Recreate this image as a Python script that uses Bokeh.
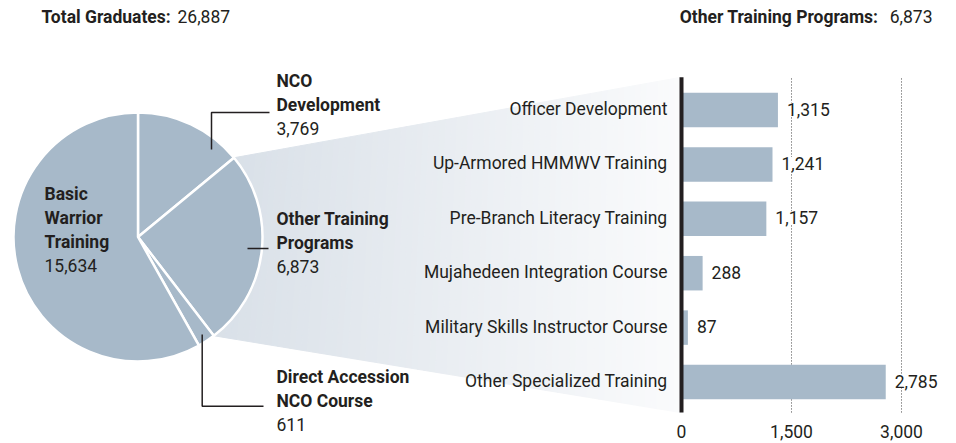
import math
from bokeh.plotting import figure
from bokeh.models import Range1d
from bokeh.core.properties import value
from bokeh.embed import file_html
from bokeh.resources import INLINE

# ---------------- data ----------------
pie_labels = ["NCO Development", "Other Training Programs", "Direct Accession NCO Course", "Basic Warrior Training"]
pie_values = [3769, 6873, 611, 15634]
total_graduates = 26887

bar_categories = ["Officer Development", "Up-Armored HMMWV Training", "Pre-Branch Literacy Training",
                  "Mujahedeen Integration Course", "Military Skills Instructor Course", "Other Specialized Training"]
bar_values = [1315, 1241, 1157, 288, 87, 2785]
other_total = 6873
axis_ticks = [0, 1500, 3000]
axis_tick_labels = ["0", "1,500", "3,000"]

# ---------------- layout constants ----------------
W, H = 956, 443
FONT = "Roboto"
FS = "17.5px"
TXT = "#231f20"
PIE_C = "#a7b9c9"
BAR_C = "#a7b9c9"
CX, CY, R = 137.5, 206.5, 124.5
ADJ = 7                  # baseline correction (px)

ZERO_PX = 681.0          # pixel of bar value 0
PX_PER_UNIT = 110.0 / 1500
BAND_PX = 54.4           # vertical spacing between bars
BOTTOM_BAR_PX = 61.5     # pixel (from bottom) of last bar centre
BAR_H = 0.634

p = figure(width=W, height=H, x_range=Range1d(0, W), y_range=Range1d(0, H),
           output_backend="svg", toolbar_location=None,
           x_axis_location=None, y_axis_location=None, min_border=0)
p.outline_line_color = None
p.xgrid.grid_line_color = None
p.ygrid.grid_line_color = None
p.background_fill_color = "white"

xs_start = -ZERO_PX / PX_PER_UNIT
p.extra_x_ranges = {"bars": Range1d(xs_start, xs_start + W / PX_PER_UNIT)}
ys_start = -BOTTOM_BAR_PX / BAND_PX
p.extra_y_ranges = {"bars": Range1d(ys_start, ys_start + H / BAND_PX)}

n = len(bar_categories)
bar_pos = [n - 1 - i for i in range(n)]
axis_lo, axis_hi = -0.56, n - 1 + 0.6

# ---------------- pie angles ----------------
cum = [0]
for v in pie_values:
    cum.append(cum[-1] + v)
tot = cum[-1]
ang = [math.pi / 2 - 2 * math.pi * c / tot for c in cum]   # clockwise from top
starts = [ang[i + 1] for i in range(len(pie_values))]
ends = [ang[i] for i in range(len(pie_values))]

# ---------------- gradient connector ----------------
oi = 1  # "Other Training Programs"
P1 = (CX + R * math.cos(ang[oi]), CY + R * math.sin(ang[oi]))
P2 = (CX + R * math.cos(ang[oi + 1]), CY + R * math.sin(ang[oi + 1]))
ax_x = ZERO_PX - 1
top_y = BOTTOM_BAR_PX + axis_hi * BAND_PX
bot_y = BOTTOM_BAR_PX + axis_lo * BAND_PX
T = (ax_x, top_y)
B = (ax_x, bot_y)
c0 = (217, 224, 232)
c1 = (250, 251, 252)
N = 80
gx, gy, gc = [], [], []

def pt(P, Q, t):
    return (P[0] + t * (Q[0] - P[0]), P[1] + t * (Q[1] - P[1]))

for i in range(N):
    t0, t1 = i / N, (i + 1) / N
    a0, a1 = pt(P1, T, t0), pt(P1, T, t1)
    b0, b1 = pt(P2, B, t0), pt(P2, B, t1)
    gx.append([a0[0], a1[0], b1[0], b0[0]])
    gy.append([a0[1], a1[1], b1[1], b0[1]])
    tm = (t0 + t1) / 2
    col = tuple(int(round(c0[k] + tm * (c1[k] - c0[k]))) for k in range(3))
    gc.append("#%02x%02x%02x" % col)
p.patches(xs=gx, ys=gy, fill_color=gc, line_color=gc, line_width=1)

# ---------------- pie ----------------
p.wedge(x=CX, y=CY, radius=R, start_angle=starts, end_angle=ends,
        fill_color=PIE_C, line_color="white", line_width=2.5)

# ---------------- leader lines ----------------
LC = "#231f20"
p.line([211, 211, 269], [294, 331, 331], line_color=LC, line_width=1.5)
p.line([247, 268], [195, 195], line_color=LC, line_width=1.5)
p.line([201.7, 201.7, 263], [109, 37.3, 37.3], line_color=LC, line_width=1.5)

def txt(x, y, s, bold=False, align="left"):
    p.text(x=[x], y=[y + ADJ], text=[s], text_font=value(FONT), text_font_size=FS,
           text_font_style="bold" if bold else "normal", text_color=TXT,
           text_align=align, text_baseline="alphabetic")

fmt = lambda v: f"{v:,}"

# titles
txt(41, 419.7, "Total Graduates:", bold=True)
txt(177, 419.7, fmt(total_graduates))
txt(878, 419.7, "Other Training Programs:", bold=True, align="right")
txt(932, 419.7, fmt(other_total), align="right")

# pie labels
txt(44, 243, "Basic", True); txt(44, 219, "Warrior", True); txt(44, 195, "Training", True)
txt(44, 171, fmt(pie_values[3]))
txt(276, 356, "NCO", True); txt(276, 332, "Development", True); txt(276, 308, fmt(pie_values[0]))
txt(276, 218, "Other Training", True); txt(276, 194, "Programs", True); txt(276, 170, fmt(pie_values[1]))
txt(276, 60, "Direct Accession", True); txt(276, 36, "NCO Course", True); txt(276, 12, fmt(pie_values[2]))

# ---------------- bars ----------------
p.segment(x0=axis_ticks[1:], x1=axis_ticks[1:], y0=axis_lo, y1=axis_hi,
          x_range_name="bars", y_range_name="bars",
          line_color="#444444", line_width=1, line_dash="1 2")
p.hbar(y=bar_pos, left=0, right=bar_values, height=BAR_H,
       x_range_name="bars", y_range_name="bars", fill_color=BAR_C, line_color=None)
p.segment(x0=[0], x1=[0], y0=[axis_lo], y1=[axis_hi], x_range_name="bars", y_range_name="bars",
          line_color=LC, line_width=4)

p.text(x=[0] * n, y=bar_pos, text=bar_categories, x_range_name="bars", y_range_name="bars",
       x_offset=-14, y_offset=6 - ADJ, text_font=value(FONT), text_font_size=FS, text_color=TXT,
       text_align="right", text_baseline="alphabetic")
p.text(x=bar_values, y=bar_pos, text=[fmt(v) for v in bar_values], x_range_name="bars", y_range_name="bars",
       x_offset=9, y_offset=6 - ADJ, text_font=value(FONT), text_font_size=FS, text_color=TXT,
       text_align="left", text_baseline="alphabetic", background_fill_color="white")

p.text(x=axis_ticks, y=[5 + ADJ] * len(axis_ticks), text=axis_tick_labels, x_range_name="bars",
       text_font=value(FONT), text_font_size=FS, text_color=TXT,
       text_align="center", text_baseline="alphabetic")

open("out.html", "w").write(file_html(p, INLINE))
